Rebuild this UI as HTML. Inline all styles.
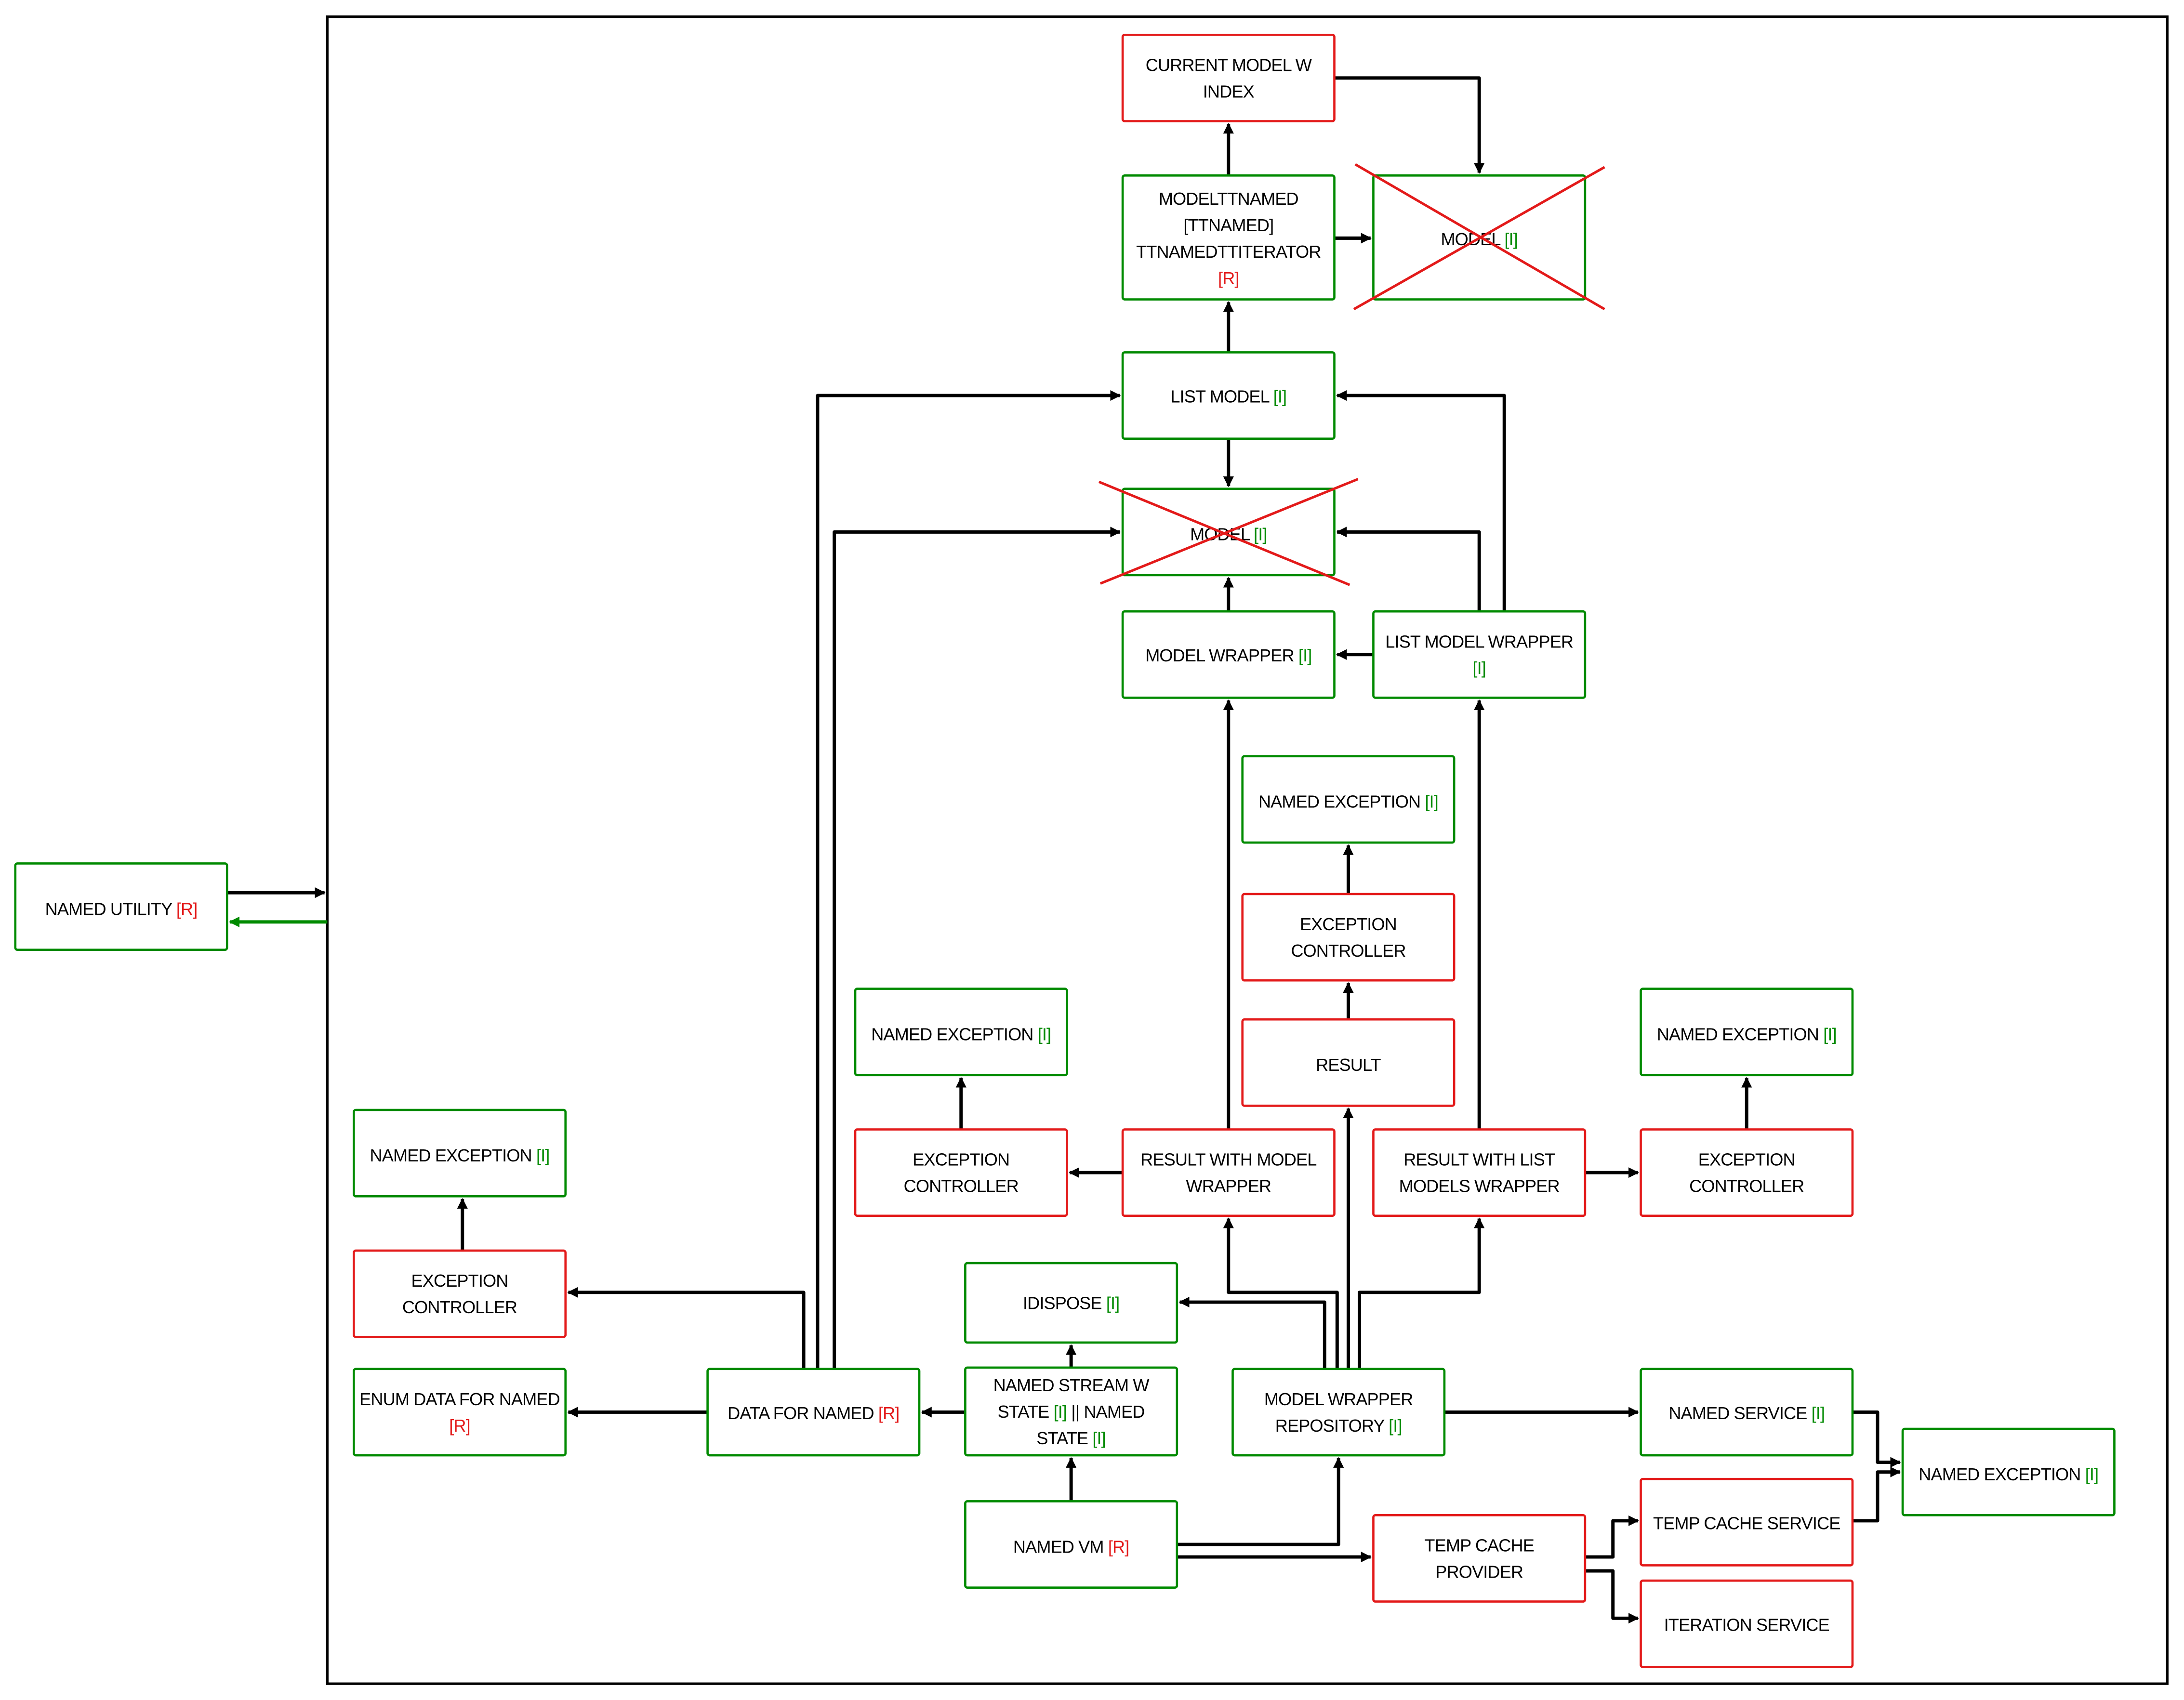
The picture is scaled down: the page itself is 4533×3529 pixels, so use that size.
<!DOCTYPE html>
<html><head><meta charset="utf-8"><style>
html,body{margin:0;padding:0;background:#fff;}
svg{display:block;}
text{font-family:"Liberation Sans",sans-serif;font-size:12.5px;fill:#000;text-anchor:middle;letter-spacing:-0.3px;}
.g{fill:#008a00}.r{fill:#e31a1a}
.bg{fill:#fff;stroke:#008a00;stroke-width:1.6}
.br{fill:#fff;stroke:#e31a1a;stroke-width:1.6}
.c{fill:none;stroke:#000;stroke-width:2.4;stroke-linejoin:round;marker-end:url(#a)}
.x{stroke:#e31a1a;stroke-width:1.8}
</style></head><body>
<svg width="4533" height="3529" viewBox="0 0 1568 1220.7" xmlns="http://www.w3.org/2000/svg">
<defs>
<marker id="a" viewBox="0 0 10 10" refX="9" refY="5" markerWidth="3.2" markerHeight="3.2" orient="auto" markerUnits="strokeWidth"><path d="M0,0 L10,5 L0,10 z" fill="#000"/></marker>
<marker id="ag" viewBox="0 0 10 10" refX="9" refY="5" markerWidth="3.2" markerHeight="3.2" orient="auto" markerUnits="strokeWidth"><path d="M0,0 L10,5 L0,10 z" fill="#008a00"/></marker>
</defs>
<rect x="235" y="12" width="1321" height="1197" fill="none" stroke="#000" stroke-width="1.8"/>

<!-- connectors -->
<path class="c" d="M958,56 H1062 V124"/>
<path class="c" d="M882,126 V89"/>
<path class="c" d="M958,171 H984"/>
<path class="c" d="M882,253 V217"/>
<path class="c" d="M882,315 V349"/>
<path class="c" d="M882,439 V415"/>
<path class="c" d="M986,470 H960"/>
<path class="c" d="M1062,439 V382 H960"/>
<path class="c" d="M1080,439 V284 H960"/>
<path class="c" d="M587,983 V284 H804"/>
<path class="c" d="M599,983 V382 H804"/>
<path class="c" d="M577,983 V928 H408"/>
<path class="c" d="M508,1014 H408"/>
<path class="c" d="M332,898 V861"/>
<path class="c" d="M693,1014 H662"/>
<path class="c" d="M769,982 V966"/>
<path class="c" d="M769,1078 V1047"/>
<path class="c" d="M845,1109 H961 V1047"/>
<path class="c" d="M845,1118 H984"/>
<path class="c" d="M951,983 V935 H847"/>
<path class="c" d="M960,983 V928 H882 V875"/>
<path class="c" d="M968,983 V796"/>
<path class="c" d="M976,983 V928 H1062 V875"/>
<path class="c" d="M1037,1014 H1176"/>
<path class="c" d="M882,811 V503"/>
<path class="c" d="M806,842 H768"/>
<path class="c" d="M690,811 V774"/>
<path class="c" d="M1062,811 V503"/>
<path class="c" d="M1138,842 H1176"/>
<path class="c" d="M1254,811 V774"/>
<path class="c" d="M968,732 V706"/>
<path class="c" d="M968,642 V607"/>
<path class="c" d="M1330,1014 H1348 V1050 H1364"/>
<path class="c" d="M1330,1092 H1348 V1057 H1364"/>
<path class="c" d="M1138,1118 H1158 V1092 H1176"/>
<path class="c" d="M1138,1128 H1158 V1162 H1176"/>
<path class="c" d="M163,641 H233"/>
<path d="M235,662 H165" fill="none" stroke="#008a00" stroke-width="2.4" marker-end="url(#ag)"/>

<!-- nodes -->
<rect class="br" x="806" y="25" width="152" height="62" rx="1.5"/>
<text x="882" y="51">CURRENT MODEL W</text><text x="882" y="70">INDEX</text>

<rect class="bg" x="806" y="126" width="152" height="89" rx="1.5"/>
<text x="882" y="147">MODELTTNAMED</text><text x="882" y="166">[TTNAMED]</text><text x="882" y="185">TTNAMEDTTITERATOR</text><text x="882" y="204" class="r">[R]</text>

<rect class="bg" x="986" y="126" width="152" height="89" rx="1.5"/>
<text x="1062" y="176">MODEL <tspan class="g">[I]</tspan></text>
<line class="x" x1="973" y1="118" x2="1152" y2="222"/><line class="x" x1="1152" y1="120" x2="972" y2="222"/>

<rect class="bg" x="806" y="253" width="152" height="62" rx="1.5"/>
<text x="882" y="289">LIST MODEL <tspan class="g">[I]</tspan></text>

<rect class="bg" x="806" y="351" width="152" height="62" rx="1.5"/>
<text x="882" y="388">MODEL <tspan class="g">[I]</tspan></text>
<line class="x" x1="789" y1="346" x2="969" y2="420"/><line class="x" x1="975" y1="344" x2="790" y2="419"/>

<rect class="bg" x="806" y="439" width="152" height="62" rx="1.5"/>
<text x="882" y="475">MODEL WRAPPER <tspan class="g">[I]</tspan></text>

<rect class="bg" x="986" y="439" width="152" height="62" rx="1.5"/>
<text x="1062" y="465">LIST MODEL WRAPPER</text><text x="1062" y="484" class="g">[I]</text>

<rect class="bg" x="892" y="543" width="152" height="62" rx="1.5"/>
<text x="968" y="580">NAMED EXCEPTION <tspan class="g">[I]</tspan></text>

<rect class="br" x="892" y="642" width="152" height="62" rx="1.5"/>
<text x="968" y="668">EXCEPTION</text><text x="968" y="687">CONTROLLER</text>

<rect class="br" x="892" y="732" width="152" height="62" rx="1.5"/>
<text x="968" y="769">RESULT</text>

<rect class="bg" x="614" y="710" width="152" height="62" rx="1.5"/>
<text x="690" y="747">NAMED EXCEPTION <tspan class="g">[I]</tspan></text>

<rect class="br" x="614" y="811" width="152" height="62" rx="1.5"/>
<text x="690" y="837">EXCEPTION</text><text x="690" y="856">CONTROLLER</text>

<rect class="br" x="806" y="811" width="152" height="62" rx="1.5"/>
<text x="882" y="837">RESULT WITH MODEL</text><text x="882" y="856">WRAPPER</text>

<rect class="br" x="986" y="811" width="152" height="62" rx="1.5"/>
<text x="1062" y="837">RESULT WITH LIST</text><text x="1062" y="856">MODELS WRAPPER</text>

<rect class="bg" x="1178" y="710" width="152" height="62" rx="1.5"/>
<text x="1254" y="747">NAMED EXCEPTION <tspan class="g">[I]</tspan></text>

<rect class="br" x="1178" y="811" width="152" height="62" rx="1.5"/>
<text x="1254" y="837">EXCEPTION</text><text x="1254" y="856">CONTROLLER</text>

<rect class="bg" x="254" y="797" width="152" height="62" rx="1.5"/>
<text x="330" y="834">NAMED EXCEPTION <tspan class="g">[I]</tspan></text>

<rect class="br" x="254" y="898" width="152" height="62" rx="1.5"/>
<text x="330" y="924">EXCEPTION</text><text x="330" y="943">CONTROLLER</text>

<rect class="bg" x="254" y="983" width="152" height="62" rx="1.5"/>
<text x="330" y="1009">ENUM DATA FOR NAMED</text><text x="330" y="1028" class="r">[R]</text>

<rect class="bg" x="508" y="983" width="152" height="62" rx="1.5"/>
<text x="584" y="1019">DATA FOR NAMED <tspan class="r">[R]</tspan></text>

<rect class="bg" x="693" y="907" width="152" height="57" rx="1.5"/>
<text x="769" y="940">IDISPOSE <tspan class="g">[I]</tspan></text>

<rect class="bg" x="693" y="982" width="152" height="63" rx="1.5"/>
<text x="769" y="999">NAMED STREAM W</text><text x="769" y="1018">STATE <tspan class="g">[I]</tspan> || NAMED</text><text x="769" y="1037">STATE <tspan class="g">[I]</tspan></text>

<rect class="bg" x="693" y="1078" width="152" height="62" rx="1.5"/>
<text x="769" y="1115">NAMED VM <tspan class="r">[R]</tspan></text>

<rect class="bg" x="885" y="983" width="152" height="62" rx="1.5"/>
<text x="961" y="1009">MODEL WRAPPER</text><text x="961" y="1028">REPOSITORY <tspan class="g">[I]</tspan></text>

<rect class="bg" x="1178" y="983" width="152" height="62" rx="1.5"/>
<text x="1254" y="1019">NAMED SERVICE <tspan class="g">[I]</tspan></text>

<rect class="br" x="986" y="1088" width="152" height="62" rx="1.5"/>
<text x="1062" y="1114">TEMP CACHE</text><text x="1062" y="1133">PROVIDER</text>

<rect class="br" x="1178" y="1062" width="152" height="62" rx="1.5"/>
<text x="1254" y="1098">TEMP CACHE SERVICE</text>

<rect class="br" x="1178" y="1135" width="152" height="62" rx="1.5"/>
<text x="1254" y="1171">ITERATION SERVICE</text>

<rect class="bg" x="1366" y="1026" width="152" height="62" rx="1.5"/>
<text x="1442" y="1063">NAMED EXCEPTION <tspan class="g">[I]</tspan></text>

<rect class="bg" x="11" y="620" width="152" height="62" rx="1.5"/>
<text x="87" y="657">NAMED UTILITY <tspan class="r">[R]</tspan></text>
</svg>
</body></html>
